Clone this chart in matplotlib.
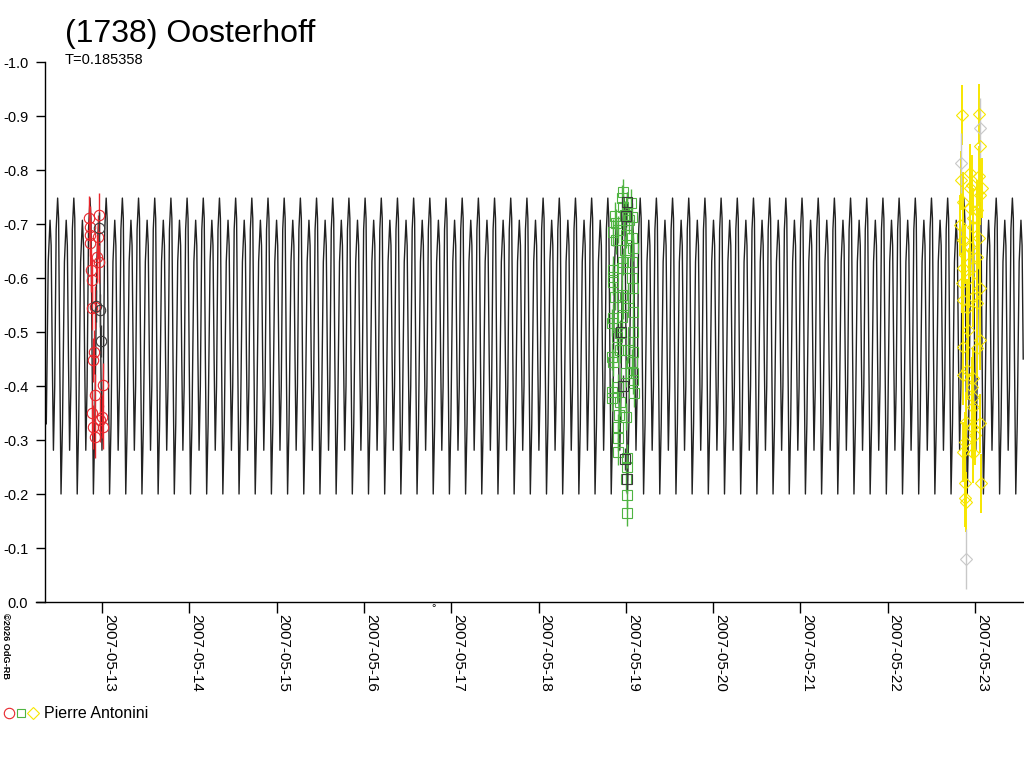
import numpy as np
import matplotlib
matplotlib.use("Agg")
import matplotlib.pyplot as plt
import matplotlib.dates as mdates
from matplotlib.lines import Line2D
from matplotlib.ticker import FuncFormatter
from datetime import datetime

plt.rcParams['font.family'] = ['Liberation Sans', 'DejaVu Sans']

# times are fractional days of May 2007, values are relative magnitudes
red_t = [12.851, 12.966, 12.863, 12.863, 12.954, 12.863, 12.943, 12.966,
         12.874, 12.885, 12.920, 12.885, 12.908, 12.897, 13.011, 12.920,
         12.885, 13.000, 12.897, 13.011, 12.920, 12.977]
red_m = [-0.711, -0.717, -0.694, -0.680, -0.676, -0.665, -0.639, -0.630,
         -0.615, -0.596, -0.546, -0.544, -0.463, -0.448, -0.402, -0.383,
         -0.350, -0.343, -0.324, -0.324, -0.306, -0.337]
red_dark_t = [12.931, 12.977, 12.989, 12.966]
red_dark_m = [-0.548, -0.540, -0.483, -0.692]

green_t = [18.968, 18.957, 19.059, 18.968, 18.876, 18.991, 19.071, 19.036,
           18.887, 18.853, 18.911, 19.002, 18.887, 19.071, 18.991, 19.082,
           18.968, 19.071, 18.957, 18.853, 18.853, 19.071, 19.082, 18.853,
           18.876, 18.957, 19.025, 18.968, 18.853, 18.957, 19.082, 18.842,
           18.899, 18.934, 19.082, 18.934, 19.025, 19.082, 18.842, 19.071,
           18.853, 19.002, 19.082, 19.082, 18.911, 18.842, 19.093, 18.934,
           18.842, 18.922, 19.002, 18.911, 18.911, 18.911, 19.014, 19.014,
           19.002, 19.014, 19.014]
green_m = [-0.759, -0.748, -0.739, -0.731, -0.715, -0.717, -0.713, -0.707,
           -0.702, -0.685, -0.689, -0.680, -0.670, -0.674, -0.652, -0.656,
           -0.630, -0.630, -0.619, -0.615, -0.602, -0.600, -0.581, -0.593,
           -0.565, -0.569, -0.563, -0.550, -0.526, -0.528, -0.537, -0.517,
           -0.491, -0.498, -0.500, -0.467, -0.467, -0.463, -0.454, -0.444,
           -0.444, -0.424, -0.424, -0.411, -0.398, -0.389, -0.387, -0.370,
           -0.378, -0.346, -0.343, -0.324, -0.304, -0.278, -0.267, -0.250,
           -0.228, -0.198, -0.165]
green_dark_t = [19.014, 19.002, 18.945, 18.991, 19.014, 18.968]
green_dark_m = [-0.740, -0.715, -0.500, -0.265, -0.228, -0.400]

yellow_t = [22.851, 23.046, 23.057, 22.840, 22.943, 23.046, 22.966, 22.943,
            23.080, 23.057, 22.863, 22.943, 23.023, 22.977, 22.828, 22.977,
            22.863, 23.046, 22.943, 22.885, 23.023, 22.863, 22.977, 22.931,
            22.851, 23.057, 22.863, 22.977, 22.908, 23.023, 22.920, 23.057,
            22.863, 23.023, 22.908, 22.863, 22.977, 22.966, 22.977, 22.977,
            22.897, 23.057, 22.966, 23.000, 22.885, 22.863, 22.977, 22.885,
            23.069, 22.885, 22.897]
yellow_m = [-0.902, -0.904, -0.844, -0.781, -0.794, -0.789, -0.772, -0.767,
            -0.767, -0.754, -0.741, -0.730, -0.726, -0.711, -0.698, -0.694,
            -0.670, -0.674, -0.657, -0.643, -0.639, -0.619, -0.620, -0.600,
            -0.591, -0.581, -0.559, -0.565, -0.544, -0.554, -0.504, -0.485,
            -0.472, -0.470, -0.430, -0.420, -0.415, -0.398, -0.380, -0.361,
            -0.333, -0.331, -0.324, -0.309, -0.296, -0.278, -0.276, -0.220,
            -0.220, -0.193, -0.185]
yellow_gray_t = [23.057, 22.840, 22.897]
yellow_gray_m = [-0.878, -0.813, -0.080]

# one rotation of the fitted lightcurve, phase 0 = brightest maximum
period = 0.185358
t_max_ref = 14.160
shape_phase = [0.00, 0.06, 0.13, 0.21, 0.30, 0.42, 0.53, 0.60, 0.67, 0.74, 0.82, 0.91, 1.00]
shape_mag = [-0.748, -0.71, -0.45, -0.200, -0.33, -0.63, -0.707, -0.66, -0.45, -0.281, -0.40, -0.69, -0.748]

title = "(1738) Oosterhoff"
subtitle = "T=0.185358"
observer = "Pierre Antonini"

day_left, spine_day, day_right = 12.244, 12.347, 23.561

base = mdates.date2num(datetime(2007, 5, 1)) - 1.0


def to_x(days):
    return base + np.asarray(days, dtype=float)


model_t, model_m = [], []
k0 = int(np.floor((spine_day - t_max_ref) / period)) - 1
k1 = int(np.ceil((day_right - t_max_ref) / period)) + 1
for k in range(k0, k1 + 1):
    for p, m in zip(shape_phase[:-1], shape_mag[:-1]):
        model_t.append(t_max_ref + (k + p) * period)
        model_m.append(m)
model_t = np.array(model_t)
model_m = np.array(model_m)
keep = (model_t >= spine_day) & (model_t <= day_right)

fig = plt.figure(figsize=(10.24, 7.68), dpi=100)
ax = fig.add_axes([36 / 1024, 166 / 768, 988 / 1024, 540 / 768])

ax.plot(to_x(model_t[keep]), model_m[keep], color='#222222', lw=1.0, zorder=1)

red = '#e8262c'
green = '#4fb442'
yellow = '#f7e600'
dark = '#3a3a3a'
gray = '#c8c8c8'


def draw(ts, ms, color, marker, size, err, elw=1.0):
    ax.errorbar(to_x(ts), ms, yerr=err, fmt='none', ecolor=color,
                elinewidth=elw, capsize=0, zorder=2)
    ax.plot(to_x(ts), ms, ls='none', marker=marker, ms=size, mfc='none',
            mec=color, mew=0.8, zorder=3)


draw(red_t, red_m, red, 'o', 7.5, 0.04)
draw(red_dark_t, red_dark_m, dark, 'o', 7.5, 0.03)
draw(green_t, green_m, green, 's', 6.6, 0.025)
draw(green_dark_t, green_dark_m, dark, 's', 6.6, 0.02)
draw(yellow_t, yellow_m, yellow, 'D', 6.5, 0.055, 1.4)
draw(yellow_gray_t, yellow_gray_m, gray, 'D', 6.5, 0.055)

ax.set_xlim(to_x(day_left), to_x(day_right))
ax.set_ylim(0.0, -1.0)

for s in ['top', 'right']:
    ax.spines[s].set_visible(False)
ax.spines['left'].set_position(('data', to_x(spine_day)))
ax.spines['left'].set_linewidth(1.0)
ax.spines['bottom'].set_linewidth(1.0)

ax.set_yticks(np.round(np.arange(-1.0, 0.01, 0.1), 1))
ax.yaxis.set_major_formatter(FuncFormatter(lambda v, p: f"{v + 0.0:.1f}"))
ax.tick_params(axis='y', direction='out', length=6.5, width=1, pad=5.5,
               labelsize=10.5, colors='black')

ax.xaxis.set_major_locator(mdates.DayLocator())
ax.xaxis.set_major_formatter(mdates.DateFormatter('%Y-%m-%d'))
ax.tick_params(axis='x', direction='out', length=8, width=1, pad=1,
               labelsize=11)
plt.setp(ax.get_xticklabels(), rotation=270, ha='left', va='top')

fig.text(65 / 1024, 1 - 42 / 768, title, fontsize=23, va='baseline')
fig.text(65 / 1024, 1 - 64 / 768, subtitle, fontsize=10.5, va='baseline')

fig.text(5 / 1024, 1 - 613 / 768, "\u00a92026 OdG-RB", fontsize=6.6,
         fontweight='bold', rotation=270, ha='center', va='top')
fig.text(434 / 1024, 1 - 608 / 768, "\u00b0", fontsize=8, ha='center', va='center')

# legend row
for px, mk, col, sz in [(9, 'o', red, 7.5), (21, 's', green, 6.0), (33, 'D', yellow, 6.0)]:
    fig.add_artist(Line2D([px / 1024], [1 - 713 / 768], transform=fig.transFigure,
                          marker=mk, ms=sz, mfc='none', mec=col, mew=0.8, ls='none'))
fig.text(44 / 1024, 1 - 713 / 768, observer, fontsize=11.5, va='center')

fig.savefig("out.png", dpi=100)
